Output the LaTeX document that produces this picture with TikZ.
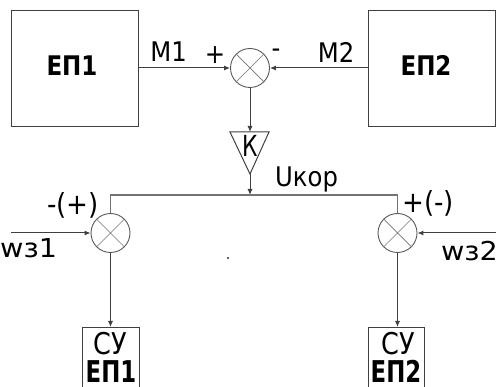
\documentclass[tikz,border=0pt]{standalone}
\usepackage{fontspec}
\setmainfont{DejaVu Sans}
\newfontfamily\bff[FakeStretch=0.85]{DejaVu Sans}
\newfontfamily\bfs[FakeStretch=0.76]{DejaVu Sans}
\newfontfamily\nrf[FakeStretch=0.9]{DejaVu Sans}
\newfontfamily\kf[FakeStretch=0.75]{DejaVu Sans}
\newfontfamily\wf[FakeStretch=1.1]{DejaVu Sans}
\usetikzlibrary{arrows.meta}
\tikzset{
  lbl/.style={inner sep=0pt, font=\nrf\fontsize{27}{32}\selectfont},
  blbl/.style={inner sep=0pt, font=\bff\bfseries\fontsize{27}{32}\selectfont},
  bblbl/.style={inner sep=0pt, font=\bfs\bfseries\fontsize{30}{36}\selectfont},
  culbl/.style={inner sep=0pt, font=\bff\fontsize{30}{36}\selectfont},
  wlbl/.style={inner sep=0pt, font=\wf\fontsize{26}{30}\selectfont},
  blk/.style={draw=black!75, line width=1pt, inner sep=0pt},
  sumc/.style={circle, draw=black!65, line width=0.9pt, minimum size=39pt, inner sep=0pt},
  xline/.style={draw=black!55, line width=0.7pt},
  conn/.style={draw=black!75, line width=1pt},
  arr/.style={conn, -{Latex[length=6pt,width=5pt]}},
  busl/.style={draw=black!55, line width=1.4pt},
}
\begin{document}
\begin{tikzpicture}[x=1pt,y=-1pt]
\useasboundingbox (0,0) rectangle (498,387);
\clip (0,0) rectangle (498,387);
% top blocks
\node[blk, minimum width=127pt, minimum height=116pt] (ep1) at (74.5,69) {};
\node[blk, minimum width=127pt, minimum height=116pt] (ep2) at (431.5,69) {};
\node[blbl, anchor=base] (ep1t) at (72,76) {ЕП1};
\node[blbl, anchor=base] (ep2t) at (426,76) {ЕП2};
% summing junctions
\node[sumc] (s0) at (250,68) {};
\node[sumc] (sL) at (110.5,233) {};
\node[sumc] (sR) at (397.5,233) {};
\foreach \s in {s0,sL,sR}{
  \draw[xline] (\s.45) -- (\s.225) (\s.135) -- (\s.315);
}
% gain triangle
\coordinate (kt) at (250,132);
\coordinate (ka) at (250,174);
\draw[conn] (230,132) -- (269,132) -- (ka) -- cycle;
\node[inner sep=0pt, font=\kf\fontsize{29}{32}\selectfont, anchor=base] (k) at (250,157) {К};
% bottom blocks (continue below the picture)
\node[blk, minimum width=57pt, minimum height=80pt, anchor=north] (cu1) at (110.5,327) {};
\node[blk, minimum width=56pt, minimum height=80pt, anchor=north] (cu2) at (396,327) {};
\node[culbl, anchor=base] (cu1a) at (110.5,355) {СУ};
\node[bblbl, anchor=base] (cu1b) at (111,382) {ЕП1};
\node[culbl, anchor=base] (cu2a) at (398,355) {СУ};
\node[bblbl, anchor=base] (cu2b) at (396,382) {ЕП2};
% connectors
\draw[arr] (ep1.east |- s0) -- (s0.west);
\draw[arr] (ep2.west |- s0) -- (s0.east);
\draw[arr] (s0.south) -- (kt);
\coordinate (bM) at (250,195);
\coordinate (bL) at (110.5,195);
\coordinate (bR) at (397.5,195);
\draw[arr] (ka) -- (bM);
\draw[busl] (sL.north) -- (bL) -- (bR) -- (sR.north);
\coordinate (w1) at (11,233);
\coordinate (w2) at (496,233);
\draw[arr] (w1) -- (sL.west);
\draw[arr] (w2) -- (sR.east);
\draw[arr] (sL.south) -- (cu1.north -| sL.south);
\draw[arr] (sR.south) -- (cu2.north -| sR.south);
% labels
\node[lbl, anchor=base] (m1) at (168.5,62) {M1};
\node[lbl, anchor=base] (m2) at (336,63) {M2};
\node[lbl] (pl) at (215,55) {+};
\node[lbl] (mi) at (276,53) {-};
\node[lbl, anchor=base west] (uk) at (275,187) {Uкор};
\node[lbl, font=\nrf\fontsize{29}{34}\selectfont] (sgL) at (73,205) {-(+)};
\node[lbl, font=\nrf\fontsize{29}{34}\selectfont] (sgR) at (428,203) {+(-)};
\node[wlbl, anchor=base west] (wz1) at (0,258) {wз1};
\node[wlbl, anchor=base east] (wz2) at (498,261) {wз2};
\fill[black!60] (227,257.5) rectangle (228.5,259);
\end{tikzpicture}
\end{document}
